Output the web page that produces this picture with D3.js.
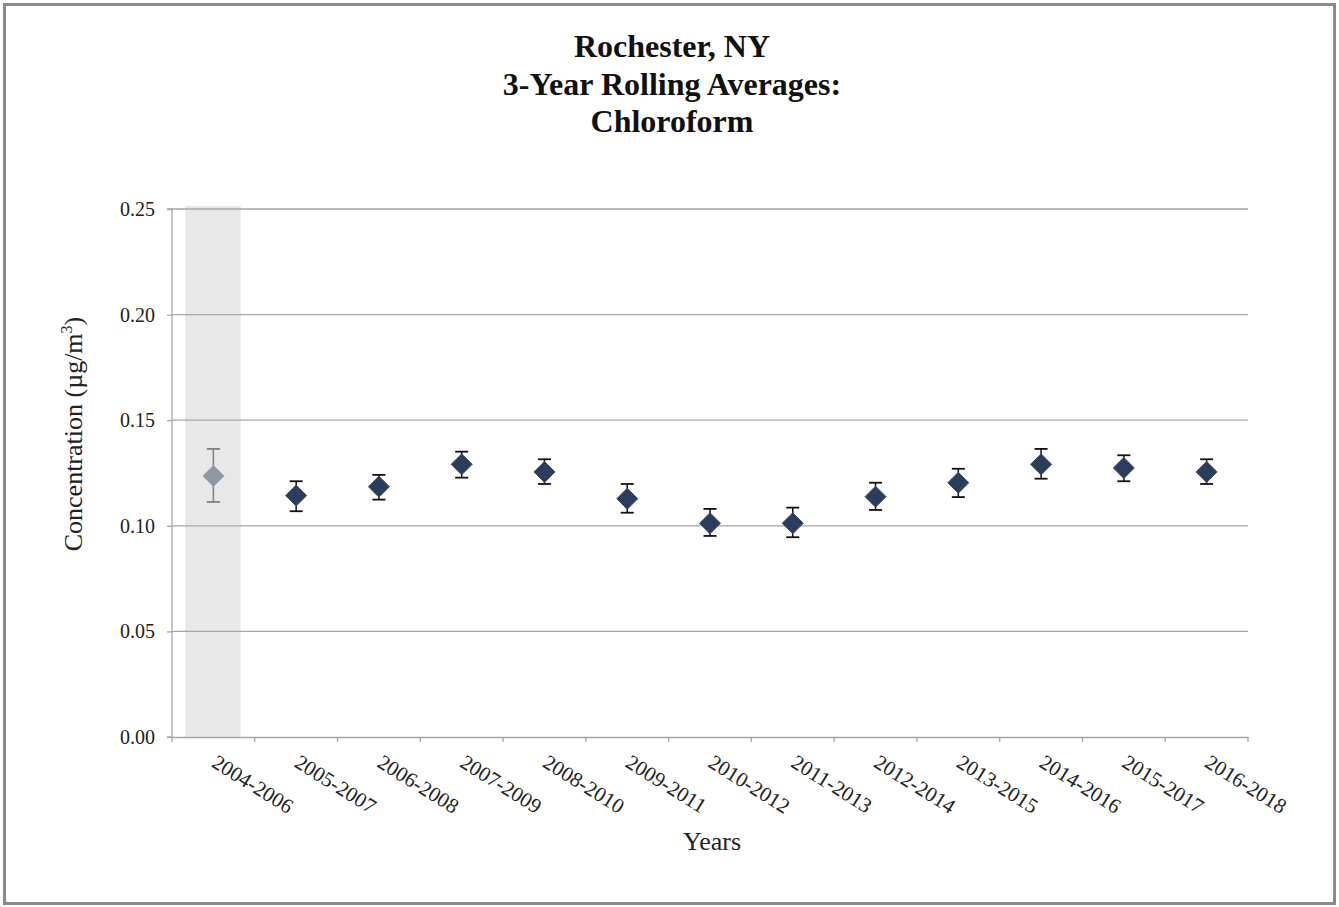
<!DOCTYPE html>
<html><head><meta charset="utf-8">
<script src="https://cdn.jsdelivr.net/npm/d3@7"></script>
<style>body{margin:0;background:#fff}svg{display:block}text{font-family:"Liberation Serif","Times New Roman",serif}</style>
</head><body><svg id="c" width="1339" height="907"></svg>
<script>
const categories = ["2004-2006","2005-2007","2006-2008","2007-2009","2008-2010","2009-2011","2010-2012","2011-2013","2012-2014","2013-2015","2014-2016","2015-2017","2016-2018"];
const values = [0.1236,0.1143,0.1185,0.1291,0.1255,0.1128,0.1012,0.1012,0.1138,0.1204,0.1291,0.1274,0.1255];
const errHigh = [0.1364,0.1211,0.1241,0.1351,0.1315,0.1198,0.1080,0.1086,0.1204,0.1270,0.1364,0.1334,0.1315];
const errLow = [0.1113,0.1069,0.1124,0.1228,0.1198,0.1062,0.0952,0.0946,0.1075,0.1136,0.1223,0.1211,0.1198];
const yTicks = [0,0.05,0.10,0.15,0.20,0.25];
const shaded = ["2004-2006"];
const titleLines = ["Rochester, NY","3-Year Rolling Averages:","Chloroform"];

const FONT = '"Liberation Serif","Times New Roman",serif';
const svg = d3.select("#c");
svg.append("rect").attr("x",4.5).attr("y",4.5).attr("width",1330).attr("height",899).attr("fill","#fff").attr("stroke","#8a8a8a").attr("stroke-width",3);

const L=172,R=1248,T=209,B=737;
const x = d3.scaleBand().domain(categories).range([L,R]);
const y = d3.scaleLinear().domain([0,0.25]).range([B,T]);

// shaded band
shaded.forEach(c=>{
  svg.append("rect").attr("x",x(c)+x.bandwidth()*0.16).attr("y",T-3).attr("width",x.bandwidth()*0.67).attr("height",B-T+3).attr("fill","#e8e8e8");
});

// gridlines
svg.append("g").selectAll("line").data(yTicks.filter(d=>d>0)).join("line")
  .attr("x1",L).attr("x2",R).attr("y1",d=>y(d)).attr("y2",d=>y(d)).attr("stroke","#a6a6a6").attr("stroke-width",1.3);

// y axis
const ya = svg.append("g").attr("transform",`translate(${L},0)`).call(d3.axisLeft(y).tickValues(yTicks).tickFormat(d3.format(".2f")).tickSize(5).tickPadding(12));
ya.attr("font-family",null).attr("font-size",null);
ya.select(".domain").attr("stroke","#a6a6a6").attr("stroke-width",1.3).attr("d",`M-5,${T}H0V${B}H-5`);
ya.selectAll(".tick line").attr("stroke","#a6a6a6").attr("stroke-width",1.3);
ya.selectAll(".tick text").style("font-size","20px").style("font-family",FONT).attr("fill","#222");

// x axis
const xa = svg.append("g").attr("transform",`translate(0,${B})`).call(d3.axisBottom(x).tickSize(0).tickFormat(""));
xa.select(".domain").attr("stroke","#a6a6a6").attr("stroke-width",1.3);
svg.append("g").selectAll("line").data(d3.range(categories.length+1)).join("line")
  .attr("x1",i=>L+i*x.step()).attr("x2",i=>L+i*x.step()).attr("y1",B).attr("y2",B+5).attr("stroke","#a6a6a6").attr("stroke-width",1.3);
svg.append("g").selectAll("text").data(categories).join("text")
  .attr("transform",d=>`translate(${x(d)+x.bandwidth()/2-3},${B+29}) rotate(32)`)
  .style("font-size","21px").style("font-family",FONT).attr("fill","#222").text(d=>d);

// error bars
const eb = svg.append("g");
categories.forEach((c,i)=>{
  const cx = x(c)+x.bandwidth()/2;
  const col = shaded.includes(c) ? "#7f7f7f" : "#111";
  eb.append("line").attr("x1",cx).attr("x2",cx).attr("y1",y(errHigh[i])).attr("y2",y(errLow[i])).attr("stroke",col).attr("stroke-width",1.5);
  [errHigh[i],errLow[i]].forEach(v=>eb.append("line").attr("x1",cx-6.5).attr("x2",cx+6.5).attr("y1",y(v)).attr("y2",y(v)).attr("stroke",col).attr("stroke-width",1.8));
});
// markers
svg.append("g").selectAll("path").data(categories).join("path")
  .attr("transform",(d,i)=>`translate(${x(d)+x.bandwidth()/2},${y(values[i])})`)
  .attr("d","M0,-10.5L10.5,0L0,10.5L-10.5,0Z")
  .attr("fill",d=>shaded.includes(d)?"#8e97a4":"#2b3d5c")
  .attr("stroke",d=>shaded.includes(d)?"#9aa2ae":"#3a4e70").attr("stroke-width",1);

// title
svg.append("text").attr("x",672).attr("y",57).attr("text-anchor","middle").style("font-size","32px").style("font-family",FONT).attr("font-weight","bold").attr("fill","#111")
  .selectAll("tspan").data(titleLines).join("tspan").attr("x",672).attr("dy",(d,i)=>i?37.5:0).text(d=>d);

// axis titles
svg.append("text").attr("transform","translate(82,434) rotate(-90)").attr("text-anchor","middle").style("font-size","26px").style("font-family",FONT).attr("fill","#222")
  .html('Concentration (µg/m<tspan dy="-10" style="font-size:16px">3</tspan><tspan dy="10">)</tspan>');
svg.append("text").attr("x",712).attr("y",850).attr("text-anchor","middle").style("font-size","26px").style("font-family",FONT).attr("fill","#222").text("Years");
</script></body></html>
